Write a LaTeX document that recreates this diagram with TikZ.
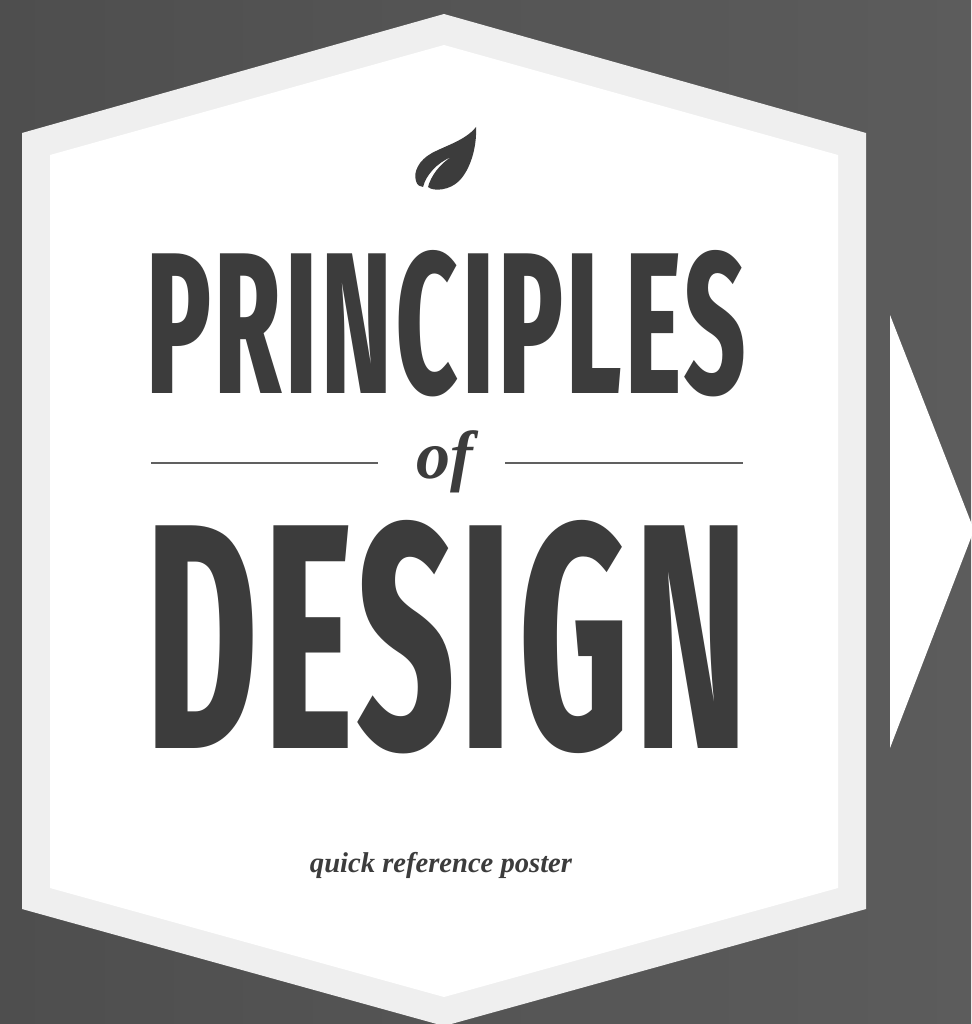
\documentclass[tikz,border=0pt]{standalone}
\usepackage{fontspec}
\usepackage{graphicx}
\setmainfont{Liberation Serif}
\newfontfamily\headfont[LetterSpace=3]{Fira Sans Extra Condensed Bold}
\definecolor{ink}{HTML}{3C3C3C}
\definecolor{rim}{HTML}{EFEFEF}
\definecolor{bgdark}{HTML}{4E4E4E}
\definecolor{bglight}{HTML}{5C5C5C}
\definecolor{rulegrey}{HTML}{606060}
\tikzset{
  headword/.style={inner sep=0pt,text=ink,anchor=north west},
  scripttext/.style={inner sep=0pt,text=ink},
  thinrule/.style={draw=rulegrey,line width=2.8pt}
}
\begin{document}
\begin{tikzpicture}[x=1pt,y=-1pt]
\useasboundingbox (0,0) rectangle (971,1024);
\shade[left color=bgdark,right color=bglight] (0,0) rectangle (971,1024);
\fill[rim] (444,14) -- (866,133) -- (866,909) -- (444,1026) -- (22,909) -- (22,133) -- cycle;
\fill[white] (444,45) -- (838,155) -- (838,888) -- (444,997) -- (50,888) -- (50,155) -- cycle;
\fill[white] (890,315) -- (974,530) -- (890,748) -- cycle;
% leaf
\fill[ink] (476,127) .. controls (466,140) and (445,146) .. (432,153)
  .. controls (419,160) and (413,172) .. (416,181)
  .. controls (417,185) and (420,187) .. (423,187)
  .. controls (426,175) and (437,163) .. (451,157)
  .. controls (439,165) and (431,176) .. (428,187)
  .. controls (434,192) and (450,190) .. (459,181)
  .. controls (470,170) and (477,148) .. (476,127) -- cycle;
\node[headword] (principles) at (146,250) {\resizebox{599pt}{143pt}{\headfont PRINCIPLES}};
\node[headword] (design) at (146,520) {\resizebox{601pt}{228pt}{\headfont DESIGN}};
\node[scripttext,anchor=base] (of) at (445,478) {\fontsize{68pt}{68pt}\selectfont\bfseries\itshape of};
\node[scripttext] (tagline) at (441,865) {\resizebox{262pt}{!}{\bfseries\itshape quick reference poster}};
\coordinate (ruleAstart) at (151,463);
\coordinate (ruleAend) at (378,463);
\coordinate (ruleBstart) at (505,463);
\coordinate (ruleBend) at (743,463);
\draw[thinrule] (ruleAstart) -- (ruleAend);
\draw[thinrule] (ruleBstart) -- (ruleBend);
\end{tikzpicture}
\end{document}
